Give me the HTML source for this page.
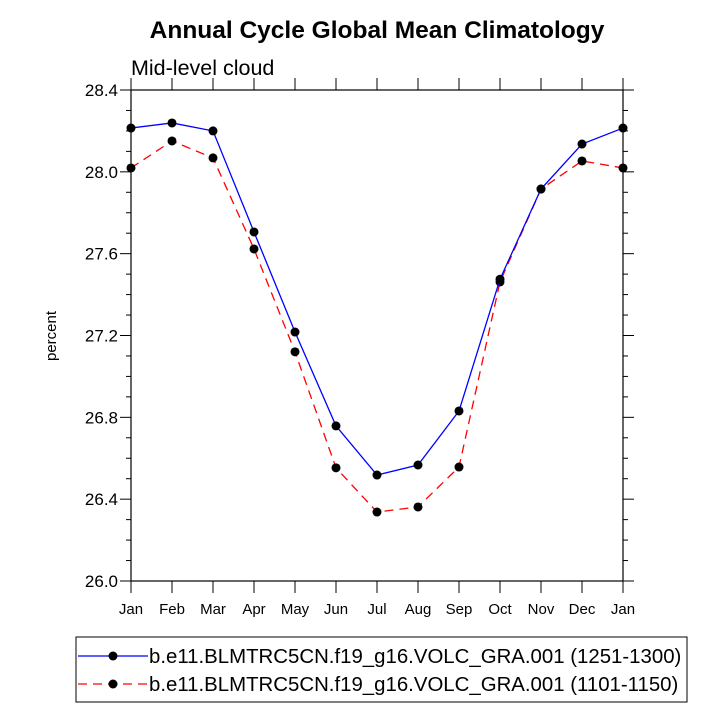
<!DOCTYPE html>
<html><head><meta charset="utf-8"><style>
body{margin:0;background:#fff}
svg text{font-family:"Liberation Sans",Arial,sans-serif;fill:#000}
</style></head><body>
<svg id="c" width="723" height="722" xmlns="http://www.w3.org/2000/svg">
<text x="377" y="38" font-size="24.5" font-weight="bold" text-anchor="middle">Annual Cycle Global Mean Climatology</text>
<text x="131" y="75" font-size="21.5">Mid-level cloud</text>
<text transform="translate(56,336) rotate(-90)" font-size="15" text-anchor="middle">percent</text>
<rect x="131" y="90" width="492" height="491" fill="none" stroke="#000" stroke-width="1.2"/>
<g id="ticks"></g><g id="series"></g>
<g>
<rect x="76" y="637" width="611" height="65" fill="none" stroke="#000" stroke-width="1"/>
<line x1="78" y1="656" x2="148" y2="656" stroke="#0000ff" stroke-width="1.3"/>
<circle cx="113" cy="656" r="4.5" fill="#000"/>
<text x="149" y="663" font-size="20.4">b.e11.BLMTRC5CN.f19_g16.VOLC_GRA.001 (1251-1300)</text>
<line x1="78" y1="684" x2="148" y2="684" stroke="#ff0000" stroke-width="1.3" stroke-dasharray="9,6"/>
<circle cx="113" cy="684" r="4.5" fill="#000"/>
<text x="149" y="691" font-size="20.4">b.e11.BLMTRC5CN.f19_g16.VOLC_GRA.001 (1101-1150)</text>
</g>
</svg>
<script>
const months=["Jan","Feb","Mar","Apr","May","Jun","Jul","Aug","Sep","Oct","Nov","Dec","Jan"];
const blueVals=[28.214,28.239,28.200,27.706,27.217,26.758,26.518,26.567,26.831,27.475,27.916,28.136,28.214];
const redVals=[28.019,28.151,28.068,27.623,27.120,26.553,26.337,26.362,26.557,27.462,27.916,28.053,28.019];
const yTicks=[26.0,26.4,26.8,27.2,27.6,28.0,28.4];
const NS="http://www.w3.org/2000/svg";
const x=i=>131+i*492/12, y=v=>581-(v-26.0)*491/2.4;
function mk(t,a,p){const e=document.createElementNS(NS,t);for(const k in a)e.setAttribute(k,a[k]);p.appendChild(e);return e;}
const tk=document.getElementById('ticks');
months.forEach((m,i)=>{
 const l=mk('line',{x1:x(i),x2:x(i),y1:581,y2:593,stroke:'#000'},tk);
 
 mk('line',{x1:x(i),x2:x(i),y1:90,y2:78,stroke:'#000'},tk);
 const t=mk('text',{x:x(i),y:614,'font-size':15,'text-anchor':'middle'},tk);t.textContent=m;
 
});
for(let k=0;k<=24;k++){const v=26+k*0.1,len=k%4==0?11:5;
 mk('line',{x1:131,x2:131-len,y1:y(v),y2:y(v),stroke:'#000'},tk);
 mk('line',{x1:623,x2:623+len,y1:y(v),y2:y(v),stroke:'#000'},tk);}
yTicks.forEach(v=>{const t=mk('text',{x:118,y:y(v)+6,'font-size':17,'text-anchor':'end'},tk);t.textContent=v.toFixed(1);
 });
const sg=document.getElementById('series');
function series(vals,col,dash,name){
 const p=mk('polyline',{points:vals.map((v,i)=>x(i)+','+y(v)).join(' '),fill:'none',stroke:col,'stroke-width':1.3,'stroke-dasharray':dash},sg);
 
 vals.forEach((v,i)=>{const c=mk('circle',{cx:x(i),cy:y(v),r:4.5,fill:'#000'},sg);
  });
}
series(redVals,'#ff0000','9,6','red-series');
series(blueVals,'#0000ff','none','blue-series');
</script>
</body></html>
